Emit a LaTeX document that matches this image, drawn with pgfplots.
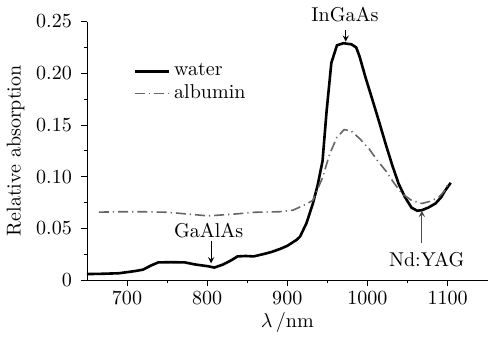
\documentclass[border=0pt]{standalone}
\usepackage{pgfplots}
\pgfplotsset{compat=1.18}
\begin{document}
\begin{tikzpicture}
\begin{axis}[
  scale only axis,
  clip mode=individual,
  width=200pt, height=129pt,
  xmin=650, xmax=1150, ymin=0, ymax=0.25,
  axis x line*=bottom, axis y line*=left,
  tick align=outside,
  xtick={700,800,900,1000,1100},
  xticklabels={700,800,900,1000,1100},
  minor x tick num=1,
  ytick={0,0.05,0.10,0.15,0.20,0.25},
  yticklabels={0,0.05,0.10,0.15,0.20,0.25},
  minor y tick num=1,
  major tick length=3pt, minor tick length=1.5pt,
  tick style={black, line width=0.4pt},
  yticklabel style={xshift=-1pt},
  xticklabel style={yshift=1pt},
  xlabel={$\lambda$\,/nm},
  ylabel={Relative absorption},
  xlabel style={yshift=3pt},
  ylabel style={yshift=-1pt},
  legend style={draw=none, fill=none, at={(0.1,0.87)}, anchor=north west, font=\normalsize, row sep=-1pt},
  legend cell align=left,
]
\addplot[black, line width=1.3pt] coordinates {
(650,0.0057)(670,0.006)(690,0.0065)(710,0.0086)(720,0.010)(730,0.014)(739,0.017)(755,0.0172)(772,0.017)(785,0.015)(801,0.0133)(809,0.012)(820,0.015)(830,0.019)(838,0.0228)(848,0.0232)(858,0.0228)(870,0.025)(880,0.027)(891,0.030)(900,0.033)(912,0.039)(916,0.042)(924,0.055)(932,0.074)(938,0.092)(944,0.115)(949,0.1625)(955,0.21)(962,0.227)(970,0.229)(980,0.228)(986,0.225)(990,0.2167)(998,0.195)(1006,0.175)(1015,0.152)(1023,0.131)(1031,0.111)(1039,0.093)(1047,0.080)(1055,0.070)(1062,0.067)(1068,0.0675)(1076,0.070)(1085,0.074)(1092,0.080)(1097,0.0865)(1104,0.094)
};
\addlegendentry{water}
\addplot[gray!80!black, line width=0.8pt, dash pattern=on 5pt off 2pt on 0.6pt off 2pt] coordinates {
(665,0.0656)(690,0.066)(720,0.066)(750,0.0655)(780,0.0635)(801,0.062)(830,0.0635)(860,0.0655)(890,0.066)(907,0.0675)(920,0.072)(932,0.077)(944,0.099)(953,0.122)(962,0.138)(971,0.1455)(980,0.144)(990,0.137)(1002,0.127)(1012,0.116)(1023,0.1055)(1033,0.094)(1043,0.0837)(1055,0.077)(1068,0.074)(1078,0.076)(1089,0.080)(1096,0.086)(1101,0.093)
};
\addlegendentry{albumin}
\node[anchor=base] at (axis cs:972,0.2505) {InGaAs};
\draw[->, >=stealth, line width=0.4pt] (axis cs:973,0.2415) -- (axis cs:973,0.2305);
\node[anchor=base] at (axis cs:802,0.041) {GaAlAs};
\draw[->, >=stealth, line width=0.4pt] (axis cs:805,0.038) -- (axis cs:805,0.016);
\node[anchor=north] at (axis cs:1074,0.034) {Nd:YAG};
\draw[->, >=stealth, line width=0.4pt, gray!60!black] (axis cs:1068,0.036) -- (axis cs:1068,0.067);
\end{axis}
\end{tikzpicture}
\end{document}
